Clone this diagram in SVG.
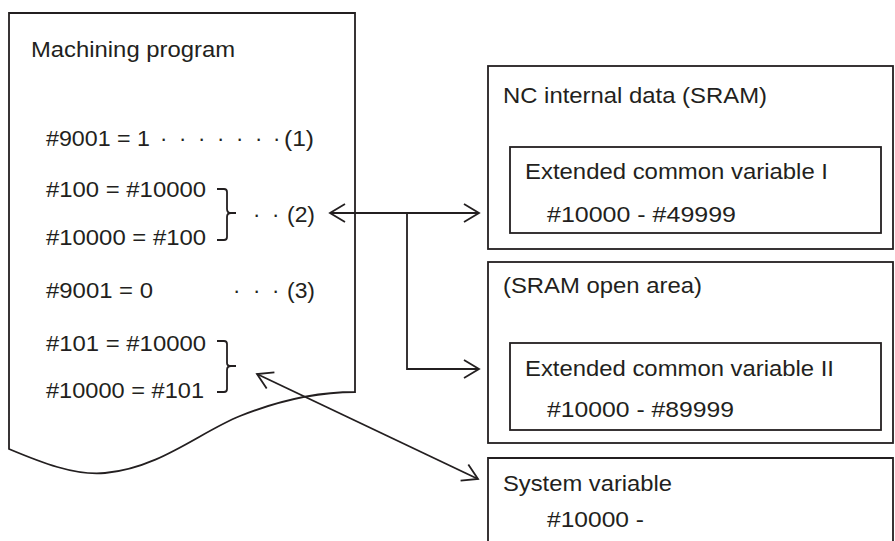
<svg xmlns="http://www.w3.org/2000/svg" width="895" height="541" viewBox="0 0 895 541">
<style>
text{font-family:"Liberation Sans",Arial,sans-serif;font-size:22px;fill:#231f20}
.ln{fill:none;stroke:#231f20;stroke-width:1.8}
</style>
<defs>
<marker id="ah" markerUnits="userSpaceOnUse" markerWidth="40" markerHeight="40" refX="0" refY="0" orient="auto-start-reverse" overflow="visible" viewBox="-20 -20 40 40">
<path d="M-15,-9 L0,0 L-15,9" fill="none" stroke="#231f20" stroke-width="1.8"/>
</marker>
</defs>
<rect width="895" height="541" fill="#fff"/>
<g id="program">
<path class="ln" d="M9,449 V13 H355 V392 C320,392 280,400 240,416 C200,432 160,468 105,473 C75,476 40,462 9,449 Z"/>
<text x="31" y="57" textLength="204" lengthAdjust="spacingAndGlyphs">Machining program</text>
<text x="46" y="146" textLength="104" lengthAdjust="spacingAndGlyphs">#9001 = 1</text>
<text x="160 179 198 217 236 255 273" y="146">·······</text>
<text x="284" y="146" textLength="30" lengthAdjust="spacingAndGlyphs">(1)</text>
<text x="46" y="197" textLength="160" lengthAdjust="spacingAndGlyphs">#100 = #10000</text>
<text x="46" y="245" textLength="160" lengthAdjust="spacingAndGlyphs">#10000 = #100</text>
<path class="ln" d="M217,189 H224 Q227,189 227,192 V209 Q227,213 231,213 H236 M231,213 Q227,213 227,217 V237 Q227,240 224,240 H217"/>
<text x="253 272" y="222">··</text>
<text x="287" y="222" textLength="28" lengthAdjust="spacingAndGlyphs">(2)</text>
<text x="46" y="298" textLength="107" lengthAdjust="spacingAndGlyphs">#9001 = 0</text>
<text x="233 253 272" y="298">···</text>
<text x="287" y="298" textLength="28" lengthAdjust="spacingAndGlyphs">(3)</text>
<text x="46" y="351" textLength="160" lengthAdjust="spacingAndGlyphs">#101 = #10000</text>
<text x="46" y="398" textLength="158" lengthAdjust="spacingAndGlyphs">#10000 = #101</text>
<path class="ln" d="M217,341 H224 Q227,341 227,344 V363 Q227,366 231,366 H236 M231,366 Q227,366 227,370 V389 Q227,392 224,392 H217"/>
</g>
<g id="nc-internal">
<rect class="ln" x="488" y="66" width="405" height="183"/>
<text x="503" y="103" textLength="264" lengthAdjust="spacingAndGlyphs">NC internal data (SRAM)</text>
</g>
<g id="ext-common-1">
<rect class="ln" x="510" y="147" width="371" height="86"/>
<text x="525" y="179" textLength="303" lengthAdjust="spacingAndGlyphs">Extended common variable I</text>
<text x="547" y="222" textLength="189" lengthAdjust="spacingAndGlyphs">#10000 - #49999</text>
</g>
<g id="sram-open">
<rect class="ln" x="488" y="262" width="405" height="181"/>
<text x="503" y="293" textLength="199" lengthAdjust="spacingAndGlyphs">(SRAM open area)</text>
</g>
<g id="ext-common-2">
<rect class="ln" x="510" y="343" width="371" height="87"/>
<text x="525" y="376" textLength="309" lengthAdjust="spacingAndGlyphs">Extended common variable II</text>
<text x="547" y="417" textLength="187" lengthAdjust="spacingAndGlyphs">#10000 - #89999</text>
</g>
<g id="system-variable">
<path class="ln" d="M488,548 V458 H893 V548"/>
<text x="503" y="491" textLength="169" lengthAdjust="spacingAndGlyphs">System variable</text>
<text x="547" y="527" textLength="97" lengthAdjust="spacingAndGlyphs">#10000 -</text>
</g>
<g id="connectors">
<path class="ln" d="M330,213 H479" marker-start="url(#ah)" marker-end="url(#ah)"/>
<path class="ln" d="M407,213 V369 H479" marker-end="url(#ah)"/>
<path class="ln" d="M257,374 L478,479" marker-start="url(#ah)" marker-end="url(#ah)"/>
</g>
</svg>
